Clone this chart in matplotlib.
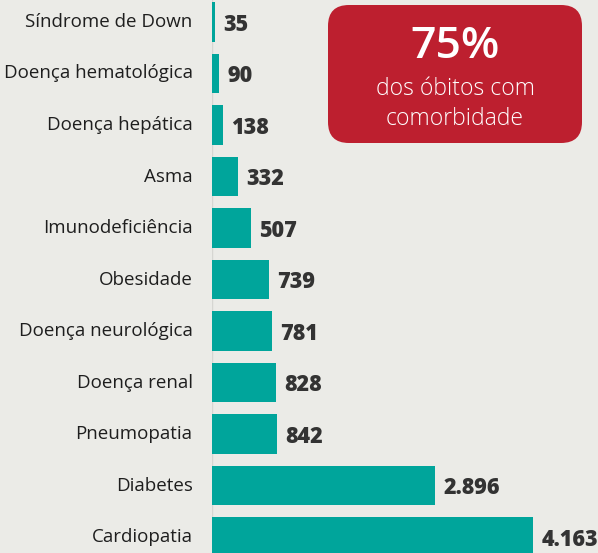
"""Comorbidades nos óbitos - barras horizontais."""

import matplotlib.pyplot as plt
from matplotlib.patches import FancyBboxPatch

# Data
categorias = [
    "Síndrome de Down", "Doença hematológica", "Doença hepática", "Asma",
    "Imunodeficiência", "Obesidade", "Doença neurológica", "Doença renal",
    "Pneumopatia", "Diabetes", "Cardiopatia",
]
obitos = [35, 90, 138, 332, 507, 739, 781, 828, 842, 2896, 4163]
destaque_valor = "75%"
destaque_texto = "dos óbitos com\ncomorbidade"

BG = "#ebebe7"
TEAL = "#00a59b"
RED = "#bd1f2f"

plt.rcParams["font.family"] = ["Open Sans", "DejaVu Sans"]

fig = plt.figure(figsize=(5.98, 5.53), dpi=100, facecolor=BG)
ax = fig.add_axes([212 / 598, 0, 1 - 212 / 598, 1])
ax.set_facecolor(BG)

y = list(range(len(categorias)))
ax.barh(y, obitos, height=0.76, color=TEAL, edgecolor="none")
ax.set_ylim(10.31, -0.427)
ax.set_xlim(0, 5006)

for yi, nome, v in zip(y, categorias, obitos):
    ax.annotate(nome, xy=(0, yi), xytext=(-14, 0), textcoords="offset points",
                ha="right", va="center", fontsize=13.5, color="#1e1e1e",
                annotation_clip=False)
    rotulo = f"{v:,}".replace(",", ".")
    ax.annotate(rotulo, xy=(v, yi), xytext=(6, -2), textcoords="offset points",
                ha="left", va="center", fontsize=15.5, fontweight=800,
                color="#333333", annotation_clip=False)

ax.axvline(0, color="#d6d6d2", lw=1, zorder=0)
for s in ax.spines.values():
    s.set_visible(False)
ax.set_xticks([])
ax.set_yticks([])

# caixa de destaque
box = FancyBboxPatch((328 / 598, 1 - 143 / 553), 254 / 598, 138 / 553,
                     boxstyle="round,pad=0,rounding_size=0.035",
                     transform=fig.transFigure, facecolor=RED,
                     edgecolor="none", mutation_aspect=598 / 553)
fig.patches.append(box)
fig.text(455 / 598, 1 - 46 / 553, destaque_valor, ha="center", va="center",
         fontsize=32, fontweight="semibold", color="white")
fig.text(455 / 598, 1 - 104 / 553, destaque_texto, ha="center", va="center",
         fontsize=16.5, fontweight="light", color="white", linespacing=1.3)

fig.savefig("out.png", dpi=100, facecolor=BG)
